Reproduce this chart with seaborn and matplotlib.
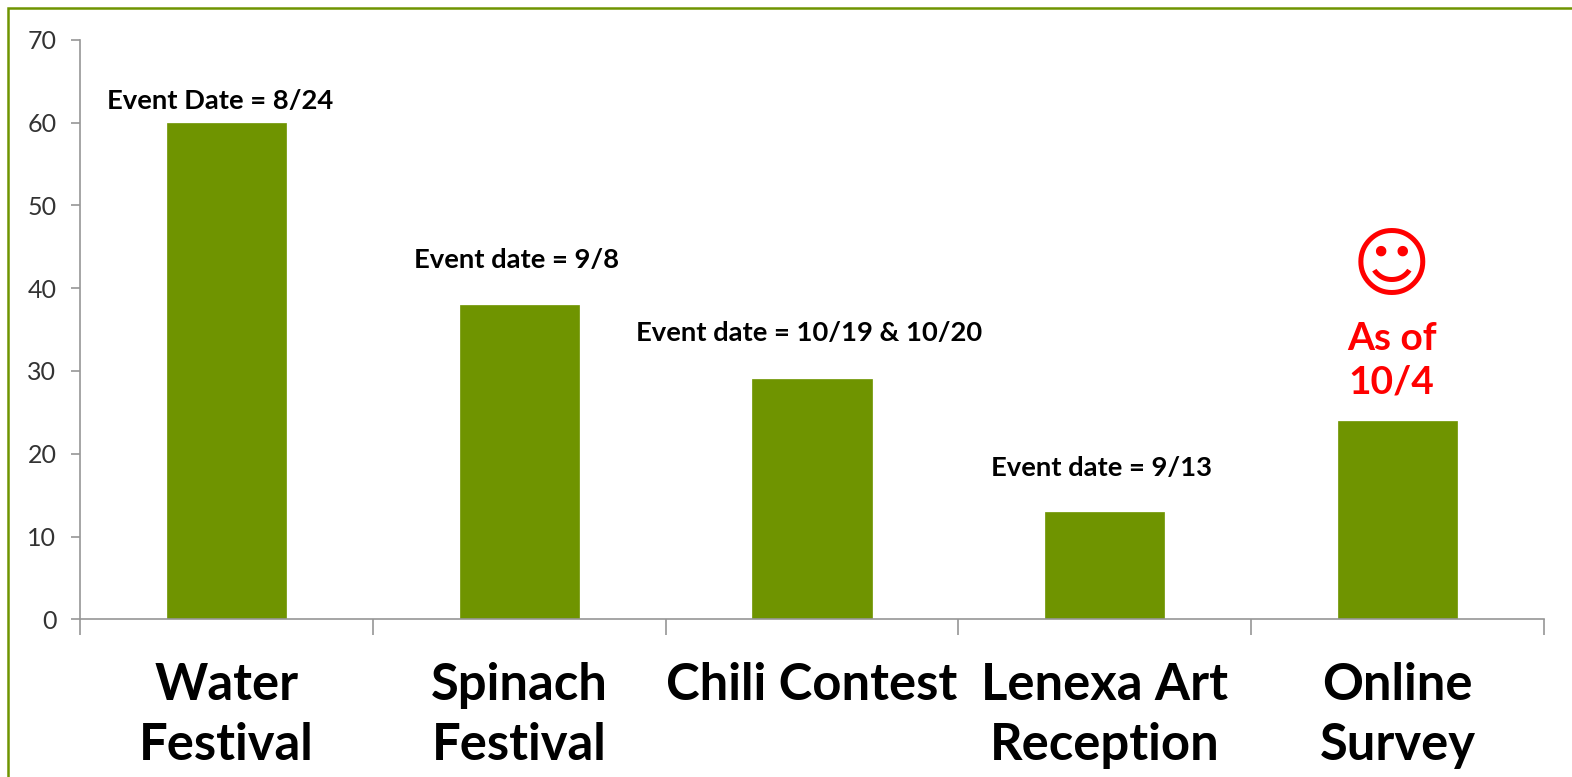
import matplotlib
matplotlib.use('Agg')
import matplotlib.pyplot as plt
import seaborn as sns
import pandas as pd
from matplotlib.patches import Rectangle
from matplotlib.ticker import FixedLocator

events = ['Water\nFestival', 'Spinach\nFestival', 'Chili Contest', 'Lenexa Art\nReception', 'Online\nSurvey']
counts = [60, 38, 29, 13, 24]
yticks = [0, 10, 20, 30, 40, 50, 60, 70]
notes = ['Event Date = 8/24', 'Event date = 9/8', 'Event date = 10/19 & 10/20', 'Event date = 9/13']

GREEN = '#6F9400'
GREY = '#969696'
W, H = 1572, 777

sns.set_theme(style='white')
plt.rcParams['font.family'] = ['Lato', 'DejaVu Sans']

fig = plt.figure(figsize=(W / 100, H / 100), dpi=100)
ax = fig.add_axes([80 / W, 1 - 619.3 / H, 1464 / W, 579.6 / H])

df = pd.DataFrame({'event': events, 'count': counts})
sns.barplot(data=df, x='event', y='count', color=GREEN, saturation=1, width=0.407,
            edgecolor=GREEN, linewidth=0.5, ax=ax)

ax.set_xlim(-0.5, 4.5)
ax.set_ylim(0, 70)
ax.set_xlabel('')
ax.set_ylabel('')
ax.set_yticks(yticks)
ax.tick_params(axis='y', labelsize=18, length=6.5, width=1.2, color=GREY, pad=10.5, labelcolor='#333333', left=True)
ax.set_xticks(range(len(events)))
ax.set_xticklabels(events, fontsize=36.5, fontweight='bold', color='black', linespacing=1.35, va='top')
ax.tick_params(axis='x', which='major', length=0, pad=30.5)
ax.xaxis.set_minor_locator(FixedLocator([-0.5, 0.5, 1.5, 2.5, 3.5, 4.5]))
ax.tick_params(axis='x', which='minor', length=11.5, width=1.2, color=GREY, bottom=True)

sns.despine(ax=ax)
for side in ['left', 'bottom']:
    ax.spines[side].set_color(GREY)
    ax.spines[side].set_linewidth(1.2)

# event date notes sit above the bars, a bit off centre
note_x = [-0.02, 0.99, 1.99, 2.99]
note_y = [62.65, 43.4, 34.6, 18.3]
for x, y, s in zip(note_x, note_y, notes):
    ax.text(x, y, s, ha='center', va='center', fontsize=19.7, fontweight='bold', color='black')

ax.text(3.98, 42.45, '\u263A', ha='center', va='center', fontsize=55, color='red', family='DejaVu Sans', fontweight='bold')
ax.text(3.98, 31.25, 'As of\n10/4', ha='center', va='center', fontsize=28, fontweight='bold', color='red', linespacing=1.3)

# green frame, only top and left show: it runs off the right and bottom edges
fig.add_artist(Rectangle((8 / W, -0.05), 1.1, 1.05 - 8 / H, transform=fig.transFigure,
                         fill=False, edgecolor=GREEN, linewidth=1.8))

fig.savefig('out.png', dpi=100)
